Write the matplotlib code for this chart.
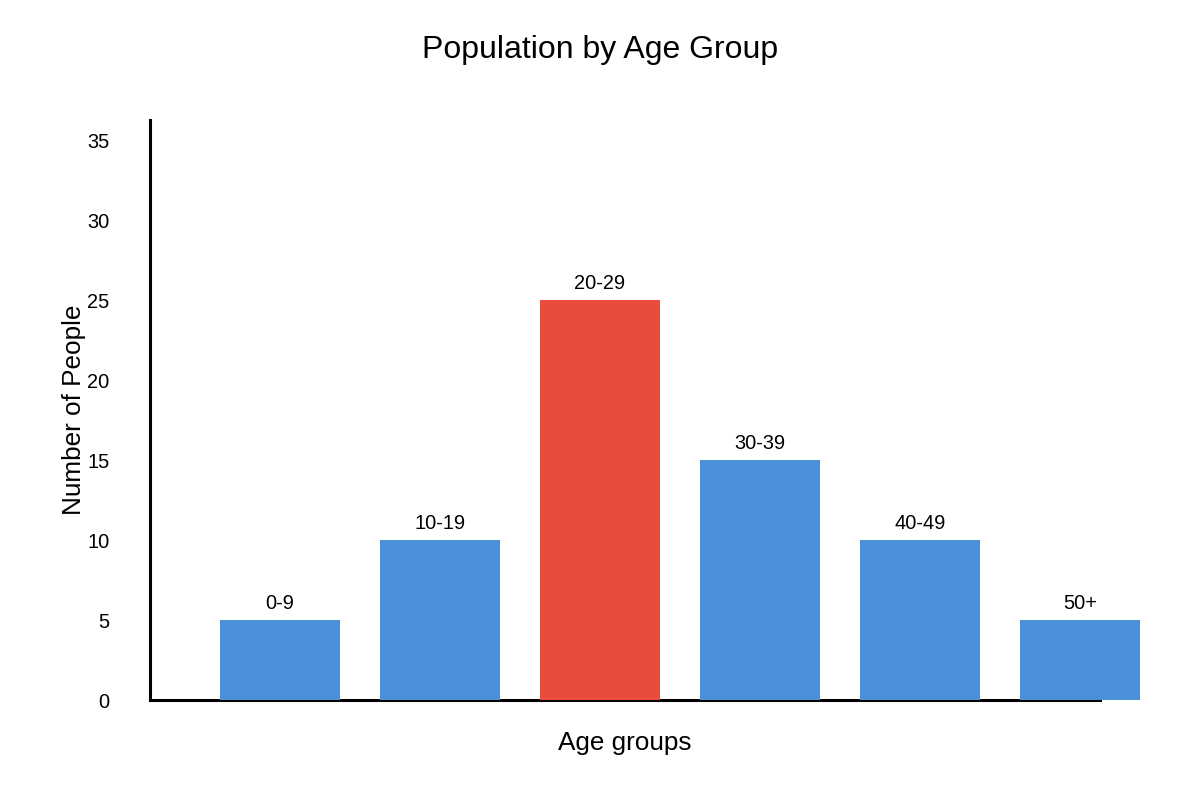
import matplotlib
matplotlib.use("Agg")
import matplotlib.pyplot as plt

plt.rcParams['font.family'] = ['Liberation Sans', 'DejaVu Sans']

age_groups = ["0-9", "10-19", "20-29", "30-39", "40-49", "50+"]
counts = [5, 10, 25, 15, 10, 5]
yticks = [0, 5, 10, 15, 20, 25, 30, 35]
highlight = "20-29"

blue = "#4a90d9"
red = "#e74c3c"

fig = plt.figure(figsize=(12, 8), dpi=100)
ax = fig.add_axes([150 / 1200, 100 / 800, 950 / 1200, 580 / 800])

x = list(range(len(age_groups)))
colors = [red if g == highlight else blue for g in age_groups]
bars = ax.bar(x, counts, width=0.75, color=colors, clip_on=False, zorder=1)

for xi, v, g in zip(x, counts, age_groups):
    ax.annotate(g, (xi, v), xytext=(0, 5), textcoords="offset points",
                ha="center", va="bottom", fontsize=14.4, annotation_clip=False)

ax.set_xlim(-0.8125, 5.125)
ax.set_ylim(0, 36.25)
ax.set_yticks(yticks)
ax.set_xticks([])
ax.tick_params(axis="y", length=0, pad=29, labelsize=14.4)
for lbl in ax.get_yticklabels():
    lbl.set_horizontalalignment("right")

for s in ["top", "right"]:
    ax.spines[s].set_visible(False)
for s in ["left", "bottom"]:
    ax.spines[s].set_linewidth(2.2)
    ax.spines[s].set_zorder(0)

ax.set_xlabel("Age groups", fontsize=18.8, labelpad=22)
ax.set_ylabel("Number of People", fontsize=18.8, labelpad=1)
fig.text(0.5, 1 - 50 / 800, "Population by Age Group", ha="center", va="center", fontsize=23)

fig.savefig("out.png", dpi=100)
